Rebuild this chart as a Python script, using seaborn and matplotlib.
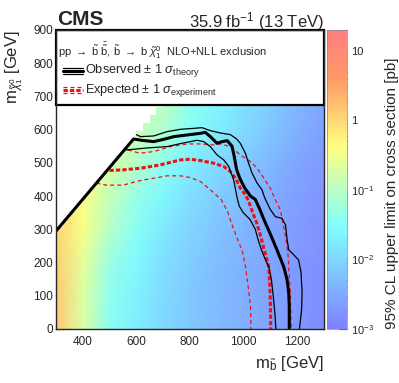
import numpy as np
import matplotlib
matplotlib.use("Agg")
import matplotlib.pyplot as plt
import seaborn as sns
from matplotlib.colors import LinearSegmentedColormap, LogNorm
from matplotlib.patches import Rectangle
from matplotlib.lines import Line2D
from matplotlib.ticker import MultipleLocator, LogLocator

# grid of the 95% CL upper limit (log10 of pb), rows = m_chi, cols = m_sbottom
mb_grid = [300, 400, 500, 600, 700, 800, 900, 1000, 1100, 1200, 1300]
mchi_grid = [0, 100, 200, 300, 400, 500, 600, 700]
log_limit = [
    [0.15, -0.70, -1.45, -1.72, -1.98, -2.17, -2.32, -2.45, -2.58, -2.72, -2.85],
    [0.15, -0.68, -1.40, -1.68, -1.95, -2.15, -2.30, -2.44, -2.57, -2.71, -2.84],
    [0.10, -0.60, -1.28, -1.60, -1.90, -2.10, -2.27, -2.42, -2.55, -2.70, -2.83],
    [0.05, -0.45, -1.05, -1.45, -1.78, -2.02, -2.20, -2.37, -2.52, -2.67, -2.80],
    [0.05, -0.40, -0.90, -1.32, -1.62, -1.90, -2.10, -2.28, -2.45, -2.62, -2.76],
    [0.05, -0.40, -0.75, -1.05, -1.42, -1.72, -1.95, -2.15, -2.35, -2.55, -2.70],
    [0.05, -0.40, -0.75, -0.85, -1.10, -1.48, -1.72, -1.95, -2.18, -2.42, -2.62],
    [0.05, -0.40, -0.75, -0.85, -0.95, -1.35, -1.62, -1.88, -2.10, -2.35, -2.55],
]

# kinematic edge (m_chi ~ m_sbottom) drawn by the observed contour
diag_start = (300, 295)
diag_slope = 0.96

# exclusion contours
obs_x = [300, 590, 620, 665, 703, 740, 790, 840, 858, 877, 902, 921, 940, 958, 966, 975,
         988, 1005, 1027, 1045, 1062, 1078, 1100, 1126, 1151, 1164, 1170, 1172, 1172]
obs_y = [295, 572, 568, 564, 571, 579, 584, 589, 592, 579, 559, 564, 567, 550, 520, 480,
         452, 425, 400, 390, 360, 328, 288, 238, 188, 148, 108, 67, 0]

obs_up_x = [600, 616, 665, 715, 765, 815, 846, 877, 915, 952, 975, 989, 1008, 1020, 1033,
            1052, 1070, 1080, 1101, 1120, 1145, 1158, 1164, 1170, 1183, 1207, 1216, 1220,
            1218, 1210]
obs_up_y = [585, 579, 581, 594, 601, 604, 606, 597, 590, 585, 572, 559, 529, 499, 469,
            439, 419, 395, 360, 338, 333, 313, 268, 238, 228, 208, 170, 110, 57, 0]

obs_dn_x = [563, 591, 641, 715, 765, 827, 852, 877, 902, 927, 946, 964, 977, 985, 1000,
            1025, 1045, 1055, 1068, 1083, 1095, 1105, 1112, 1118, 1122]
obs_dn_y = [539, 541, 545, 549, 558, 568, 564, 549, 524, 509, 489, 449, 395, 370, 350,
            330, 300, 270, 238, 208, 188, 150, 100, 50, 0]

exp_x = [500, 551, 616, 690, 765, 802, 840, 890, 927, 952, 971, 989, 1008, 1020, 1035,
         1050, 1062, 1076, 1088, 1095, 1099, 1101, 1103]
exp_y = [477, 479, 484, 494, 509, 511, 507, 499, 489, 474, 454, 424, 404, 385, 350,
         320, 288, 245, 210, 188, 138, 88, 0]

exp_up_x = [569, 613, 665, 728, 790, 840, 890, 914, 952, 989, 1027, 1052, 1077, 1101,
            1120, 1139, 1148, 1160, 1168, 1172, 1176, 1177, 1180]
exp_up_y = [539, 529, 534, 549, 557, 557, 554, 557, 549, 524, 504, 484, 454, 424,
            389, 358, 320, 270, 218, 158, 118, 67, 0]

exp_dn_x = [451, 488, 551, 616, 653, 715, 765, 802, 840, 877, 918, 942, 964, 985, 998,
            1008, 1020, 1027, 1029]
exp_dn_y = [439, 433, 433, 447, 452, 461, 461, 456, 444, 419, 389, 352, 300, 258, 230,
            188, 118, 67, 0]

sns.set_style("ticks")
plt.rcParams['font.family'] = ['Liberation Sans', 'DejaVu Sans']
plt.rcParams['mathtext.fontset'] = 'custom'
plt.rcParams['mathtext.rm'] = 'Liberation Sans'
plt.rcParams['mathtext.it'] = 'Liberation Sans:italic'
plt.rcParams['mathtext.bf'] = 'Liberation Sans:bold'
plt.rcParams['mathtext.sf'] = 'Liberation Sans'

cms_cmap = LinearSegmentedColormap.from_list(
    "cms", [(0.0, "#8080ff"), (0.34, "#80ffff"), (0.61, "#ffff80"),
            (0.84, "#ff9966"), (1.0, "#ff8080")])

fig = plt.figure(figsize=(3.99, 3.83), dpi=100)
ax = fig.add_axes([0.1404, 0.141, 0.6704, 0.7807])
cax = fig.add_axes([0.8195, 0.141, 0.0501, 0.7807])

mesh = ax.pcolormesh(mb_grid, mchi_grid, 10 ** np.array(log_limit), shading="gouraud",
                     cmap=cms_cmap, norm=LogNorm(1e-3, 20), zorder=1, rasterized=True)

# white area above the kinematic edge (staircase of 25 GeV cells)
edges = np.arange(300, 725, 25)
tops = diag_start[1] + (edges + 12.5 - diag_start[0]) * diag_slope
ax.fill_between(edges, tops, 900, step="post", color="white", lw=0, zorder=1.5)

# contours
thin_dash = (0, (3.2, 2.4))
thick_dash = (0, (1.4, 0.7))
sns.lineplot(x=exp_up_x, y=exp_up_y, sort=False, estimator=None, color="#ee1111",
             lw=0.9, linestyle=thin_dash, ax=ax, zorder=3)
sns.lineplot(x=exp_dn_x, y=exp_dn_y, sort=False, estimator=None, color="#ee1111",
             lw=0.9, linestyle=thin_dash, ax=ax, zorder=3)
sns.lineplot(x=exp_x, y=exp_y, sort=False, estimator=None, color="#ee1111",
             lw=2.2, linestyle=thick_dash, ax=ax, zorder=3)
sns.lineplot(x=obs_up_x, y=obs_up_y, sort=False, estimator=None, color="black",
             lw=0.9, ax=ax, zorder=4)
sns.lineplot(x=obs_dn_x, y=obs_dn_y, sort=False, estimator=None, color="black",
             lw=0.9, ax=ax, zorder=4)
sns.lineplot(x=obs_x, y=obs_y, sort=False, estimator=None, color="black",
             lw=2.2, ax=ax, zorder=4)

ax.set_xlim(300, 1300)
ax.set_ylim(0, 900)
ax.set_xticks([400, 600, 800, 1000, 1200])
ax.set_yticks(range(0, 1000, 100))
ax.xaxis.set_minor_locator(MultipleLocator(50))
ax.yaxis.set_minor_locator(MultipleLocator(20))
ax.tick_params(which="both", direction="in", top=True, right=True, labelsize=8.5,
               color="#222222", width=0.8)
ax.tick_params(which="major", length=6.5, pad=2)
ax.tick_params(axis="x", which="major", pad=5)
ax.tick_params(which="minor", length=3.2)
for sp in ax.spines.values():
    sp.set_linewidth(1.0)
    sp.set_zorder(6)
ax.set_xlabel("")
ax.set_ylabel("")

# legend box
ax.add_patch(Rectangle((0, 0.75), 1, 0.25, transform=ax.transAxes, fc="white",
                       ec="black", lw=1.6, zorder=5, clip_on=False))
ax.text(0.0075, 0.931,
        r"pp $\rightarrow$ $\tilde{\mathrm{b}}$ $\bar{\tilde{\mathrm{b}}}$, $\tilde{\mathrm{b}}$"
        r" $\rightarrow$ b $\tilde{\chi}^{0}_{1}$  NLO+NLL exclusion",
        transform=ax.transAxes, fontsize=8, va="center", ha="left", zorder=6)
for dy, lw in [(0.010, 0.9), (0.0, 2.2), (-0.010, 0.9)]:
    ax.add_line(Line2D([0.026, 0.101], [0.863 + dy] * 2, transform=ax.transAxes,
                       color="black", lw=lw, zorder=6))
    ax.add_line(Line2D([0.026, 0.101], [0.799 + dy] * 2, transform=ax.transAxes,
                       color="#ee1111", lw=lw,
                       linestyle=thick_dash if lw > 1 else thin_dash, zorder=6))
ax.text(0.108, 0.863, r"Observed $\pm$ 1 $\sigma_{\mathrm{theory}}$",
        transform=ax.transAxes, fontsize=9.2, va="center", ha="left", zorder=6)
ax.text(0.108, 0.799, r"Expected $\pm$ 1 $\sigma_{\mathrm{experiment}}$",
        transform=ax.transAxes, fontsize=9.2, va="center", ha="left", zorder=6)

# titles and axis labels
ax.text(0.004, 1.017, "CMS", transform=ax.transAxes, fontsize=15, fontweight="bold",
        ha="left", va="baseline")
ax.text(1.0, 1.010, r"35.9 fb$^{-1}$ (13 TeV)", transform=ax.transAxes, fontsize=12,
        ha="right", va="baseline")
ax.text(-0.155, 1.0, r"$\mathrm{m}_{\tilde{\chi}^{0}_{1}}$ [GeV]", transform=ax.transAxes,
        fontsize=12, rotation=90, ha="center", va="top")
ax.text(1.0, -0.13, r"$\mathrm{m}_{\tilde{\mathrm{b}}}$ [GeV]", transform=ax.transAxes,
        fontsize=12, ha="right", va="baseline")

# colour bar
cb = fig.colorbar(mesh, cax=cax)
cb.outline.set_linewidth(0.5)
cb.outline.set_edgecolor("#888888")
cb.set_ticks([1e-3, 1e-2, 1e-1, 1, 10])
cb.set_ticklabels([r"$10^{-3}$", r"$10^{-2}$", r"$10^{-1}$", "1", "10"])
cax.yaxis.set_minor_locator(LogLocator(base=10, subs=np.arange(2, 10)))
cax.tick_params(which="both", direction="in", right=True, left=False, labelsize=8,
                width=0.8, color="#222222", pad=3)
cax.tick_params(which="major", length=6)
cax.tick_params(which="minor", length=3)
cax.text(3.25, 0.0, "95% CL upper limit on cross section [pb]", transform=cax.transAxes,
         fontsize=11, rotation=90, ha="center", va="bottom")

fig.savefig("out.png", dpi=100)
